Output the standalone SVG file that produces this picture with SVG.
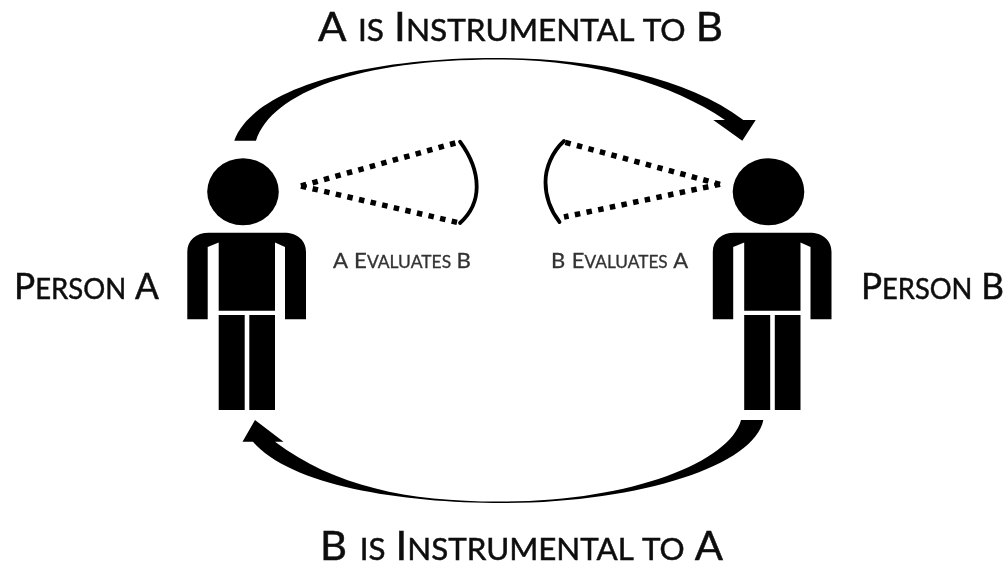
<svg xmlns="http://www.w3.org/2000/svg" width="1006" height="565" viewBox="0 0 1006 565">
<defs>
<style>
.t{font-family:Lato,"Liberation Sans",sans-serif;fill:#111;stroke:#111;stroke-width:.5;word-spacing:2px}
.big{font-size:40px}.bs{font-size:30px}
.mid{font-size:36px}.ms{font-size:28px}
.sm{font-size:21px;fill:#333;stroke:#333;stroke-width:.3;word-spacing:1px}.ss{font-size:16.500px}
.dot{fill:none;stroke:#000;stroke-width:5.500;stroke-dasharray:5.500 6.400}
.arc{fill:none;stroke:#000;stroke-width:3.800;stroke-linecap:round}
</style>
<filter id="soft" x="-5%" y="-5%" width="110%" height="110%"><feGaussianBlur stdDeviation="0.6"/></filter>
<g id="figure">
<ellipse cx="243" cy="191.700" rx="35.800" ry="33.500"/>
<path d="M187.300 319.300V252C187.300 240 196 232.700 209 232.700H284C297 232.700 306 240 306 252V319.300H285V247L275 242.500V310.700H218.700V242.500L207.700 247V319.300Z"/>
<rect x="218.700" y="315" width="26" height="95"/>
<rect x="249.300" y="315" width="25.700" height="95"/>
</g>
</defs>
<g filter="url(#soft)">
<g id="connectors">
<path id="arrow-a-b" d="M234.300 140.700C250 95 345 58 497 58C590 58 685 76 743.300 120H755.700L742.300 140.700L713.300 120H725C670 83 590 59.500 497 59.500C360 59.500 272 92 256 140.700Z"/>
<path id="arrow-b-a" d="M741 420C730 462 630 501.500 503 501.500C410 502 335 487 275 441.700H283.500L255 420L242.500 441.700H253C290 485 400 503 503 503C640 503 755 465 763.300 420Z"/>
<path class="dot" d="M301 186L460 141.700"/>
<path class="dot" d="M301 186L460 223"/>
<path class="arc" d="M460 141.700C472 158 476.700 172 476.700 186.700C476.700 202 470 214 460 223"/>
<path class="dot" d="M720 184.300L564 142"/>
<path class="dot" d="M720 184.300L564 217"/>
<path class="arc" d="M564 141C552 152 545.500 168 545.500 182C545.500 197 551 211 559.500 222"/>
</g>
<g id="person-a"><use href="#figure"/></g>
<g id="person-b"><use href="#figure" x="525.500"/></g>
<g id="label-a-b"><text class="t big" x="318" y="41" textLength="405" lengthAdjust="spacingAndGlyphs">A <tspan class="bs">IS </tspan>I<tspan class="bs">NSTRUMENTAL TO </tspan>B</text></g>
<g id="label-b-a"><text class="t big" x="320" y="560" textLength="403" lengthAdjust="spacingAndGlyphs">B <tspan class="bs">IS </tspan>I<tspan class="bs">NSTRUMENTAL TO </tspan>A</text></g>
<g id="label-person-a"><text class="t mid" x="14" y="299" textLength="145" lengthAdjust="spacingAndGlyphs">P<tspan class="ms">ERSON </tspan>A</text></g>
<g id="label-person-b"><text class="t mid" x="861" y="299" textLength="143" lengthAdjust="spacingAndGlyphs">P<tspan class="ms">ERSON </tspan>B</text></g>
<g id="label-eval-a"><text class="t sm" x="333" y="268" textLength="138" lengthAdjust="spacingAndGlyphs">A E<tspan class="ss">VALUATES </tspan>B</text></g>
<g id="label-eval-b"><text class="t sm" x="551" y="268" textLength="137" lengthAdjust="spacingAndGlyphs">B E<tspan class="ss">VALUATES </tspan>A</text></g>
</g>
</svg>
